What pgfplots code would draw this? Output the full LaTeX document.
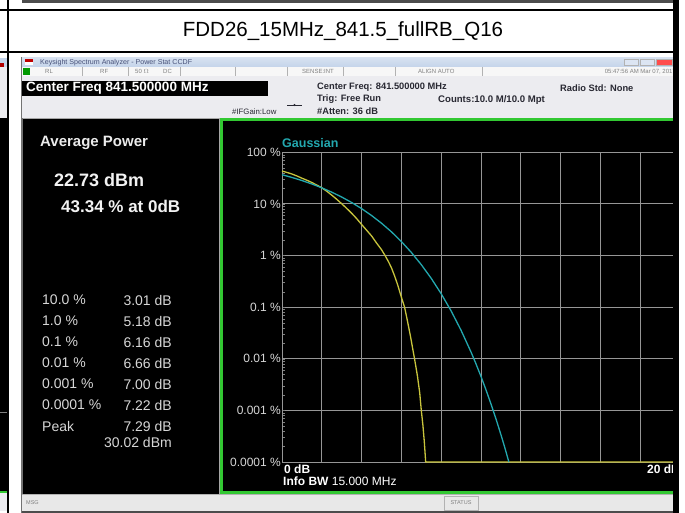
\documentclass[border=0pt]{standalone}
\usepackage{pgfplots}
\pgfplotsset{compat=1.18}
\usepackage{fontspec}
\setmainfont{Liberation Sans}

\definecolor{gridgray}{RGB}{150,150,150}
\definecolor{ccdfyellow}{RGB}{200,196,60}
\definecolor{gausscyan}{RGB}{35,168,175}
\definecolor{panelgreen}{RGB}{50,200,50}
\definecolor{hdrgray}{RGB}{236,236,240}
\definecolor{titleblue}{RGB}{196,212,234}
\definecolor{labelgray}{RGB}{215,215,215}
\definecolor{txtdark}{RGB}{40,40,50}
\newcommand\fs[1]{\fontsize{#1}{#1}\selectfont}

% measured CCDF (yellow) and Gaussian reference (cyan), dB vs percent
\pgfplotstableread{
x y
0 43.34
0.25 40.7
0.5 38.0
0.75 34.8
1 31.5
1.25 28.8
1.5 26.0
1.75 23.2
2 20.5
2.25 17.6
2.5 14.8
2.75 12.3
3.01 10.0
3.25 8.2
3.5 6.6
3.75 5.2
4 4.0
4.25 3.1
4.5 2.4
4.75 1.75
5.0 1.3
5.18 1.0
5.35 0.76
5.5 0.58
5.65 0.41
5.8 0.28
5.95 0.18
6.05 0.135
6.16 0.1
6.3 0.055
6.45 0.028
6.66 0.01
6.8 0.0048
6.92 0.0022
7.0 0.001
7.08 0.00052
7.15 0.00025
7.22 0.0001
20 0.0001
}\measured

\pgfplotstableread{
x y
0 36.79
0.5 32.56
1 28.40
1.5 24.35
2 20.50
2.5 16.89
3 13.60
3.5 10.66
4 8.11
4.5 5.97
5 4.23
5.5 2.88
6 1.866
6.5 1.148
7 0.665
7.5 0.361
8 0.1817
8.5 0.0843
9 0.0355
9.5 0.01347
9.75 0.00794
10 0.00454
10.25 0.002506
10.5 0.001337
10.75 0.000689
11 0.00034
11.2 0.000188
11.4 0.0001
}\gauss

\begin{document}
\begin{tikzpicture}
\useasboundingbox (0,0) rectangle (685pt,-513pt);

\begin{scope}[x=1pt,y=-1pt]
  \fill[white] (0,0) rectangle (685,513);
  % piece of the neighbouring cell
  \fill[titleblue] (0,58) rectangle (7,67);
  \fill[red!70!black] (0,63) rectangle (4,68);
  \fill[hdrgray] (0,67) rectangle (7,118);
  \fill[black] (0,118) rectangle (7,493);
  \draw[gray] (0,412) -- (7,412);
  \fill[panelgreen] (0,491) rectangle (7,493);
  \fill[hdrgray] (0,493) rectangle (7,511);
  % bottom of the screenshot above
  \fill[black!70] (22,0) rectangle (673,3);

  \begin{scope}
    \clip (21,57) rectangle (673,513);
    \fill[black!55] (21,57) rectangle (673,513);
    \shade[top color=titleblue!70!white, bottom color=titleblue] (22,58) rectangle (673,67);
    \fill[red!75!black] (25,59.5) rectangle (33,62);
    \fill[white] (25,62) rectangle (33,65.5);
    \node[anchor=west, inner sep=0pt, text={rgb,255:red,70;green,80;blue,120}, font=\fs{7.1}] at (40,62.5) {Keysight Spectrum Analyzer - Power Stat CCDF};
    \fill[titleblue!60!white, draw=gray!60] (624,59) rectangle (638,65.5);
    \fill[titleblue!60!white, draw=gray!60] (640,59) rectangle (654,65.5);
    \fill[red!70, draw=gray!60] (656,59) rectangle (672,65.5);
    % status row
    \fill[white!94!gray] (22,67) rectangle (673,76);
    \fill[green!60!black] (23,68) rectangle (30,75);
    \foreach \sx in {82,128,180,235,287,343,395,482}
      \draw[gray!60] (\sx,67) -- (\sx,76);
    \begin{scope}[every node/.style={anchor=west, inner sep=0pt, text=gray, font=\fs{6}}]
      \node at (45,71.5) {RL};
      \node at (100,71.5) {RF};
      \node at (135,71.5) {50 $\Omega$};
      \node at (163,71.5) {DC};
      \node at (302,71.5) {SENSE:INT};
      \node at (418,71.5) {ALIGN AUTO};
      \node[anchor=east] at (676,71.5) {05:47:56 AM Mar 07, 2017};
    \end{scope}
    % header
    \fill[hdrgray] (22,76) rectangle (673,118);
    \fill[black] (22,81) rectangle (268,96);
    \node[anchor=west, inner sep=0pt, text=white, font=\fs{13.5}\bfseries] at (26,88.5) {Center Freq 841.500000 MHz};
    \begin{scope}[every node/.style={anchor=west, inner sep=0pt, text=txtdark, font=\fs{9.3}\bfseries}]
      \node at (317,87) {Center Freq: 841.500000 MHz};
      \node at (317,99) {Trig: Free Run};
      \node at (317,111) {\#Atten: 36 dB};
      \node[font=\fs{9.6}\bfseries] at (438,100) {Counts:10.0 M/10.0 Mpt};
      \node at (560,88) {Radio Std: None};
      \node[font=\fs{7.8}] at (232,111.5) {\#IFGain:Low};
    \end{scope}
    \draw[txtdark, line width=0.6pt] (287,105) -- (302,105);
    \fill[txtdark] (294.5,105) circle (1.2);
    % panels
    \fill[black] (23,118) rectangle (219,494);
    \draw[gray!70] (23,118) -- (219,118);
    \draw[gray!70] (219.5,118) -- (219.5,494);
    \fill[black] (220,118) rectangle (673,494);
    \draw[panelgreen, line width=2.2pt] (221.5,119.5) rectangle (700,492.5);
    % status bar
    \fill[gray!18] (22,494) rectangle (673,511);
    \draw[gray!60] (22,494.5) -- (673,494.5);
    \node[anchor=west, inner sep=0pt, text=gray, font=\fs{5.5}] at (26,503) {MSG};
    \draw[gray!60] (444,496) rectangle (478,510);
    \node[inner sep=0pt, text=gray, font=\fs{5.5}] at (461,503) {STATUS};
    \fill[black!70] (22,511) rectangle (673,513);

    % left result panel
    \begin{scope}[every node/.style={inner sep=0pt}]
      \node[anchor=west, text=white!92!black, font=\fs{15}\bfseries] at (40,143) {Average Power};
      \node[anchor=west, text=white!95!black, font=\fs{18}\bfseries] at (54,180) {22.73 dBm};
      \node[anchor=west, text=white!95!black, font=\fs{17}\bfseries] at (61,206) {43.34 \% at 0dB};
      \foreach \ry/\lab/\val in {300/10.0 \%/3.01 dB, 321/1.0 \%/5.18 dB, 342/0.1 \%/6.16 dB,
          363/0.01 \%/6.66 dB, 384/0.001 \%/7.00 dB, 405/0.0001 \%/7.22 dB, 426/Peak/7.29 dB} {
        \node[anchor=west, text=labelgray, font=\fs{14}] at (42,\ry) {\lab};
        \node[anchor=east, text=labelgray, font=\fs{14}] at (172,\ry) {\val};
      }
      \node[anchor=east, text=labelgray, font=\fs{14}] at (172,442) {30.02 dBm};
    \end{scope}
  \end{scope}
\end{scope}

\begin{scope}
  \clip (21pt,-57pt) rectangle (673pt,-513pt);
  \begin{axis}[
      at={(282pt,-462pt)}, anchor=south west,
      scale only axis, width=398pt, height=309.7pt,
      xmin=0, xmax=20,
      ymode=log, ymin=1e-4, ymax=100,
      xtick={0,2,...,20}, xticklabels={},
      ytick={1e-4,1e-3,1e-2,1e-1,1,10,100},
      yticklabels={0.0001 \%,0.001 \%,0.01 \%,0.1 \%,1 \%,10 \%,100 \%},
      yticklabel style={font=\fs{12}, text=labelgray, inner sep=1pt},
      major tick length=0pt,
      grid=major,
      major grid style={gridgray, line width=0.9pt},
      axis line style={gridgray, line width=1pt},
      clip=false,
    ]
    \addplot[ccdfyellow, line width=1.3pt] table[x=x, y=y] {\measured};
    \addplot[gausscyan, line width=1.3pt] table[x=x, y=y] {\gauss};
    \node[anchor=base west, inner sep=0pt, text=gausscyan, font=\fs{12.5}\bfseries] at (rel axis cs:0,1) [yshift=4.5pt] {Gaussian};
    \node[anchor=base west, inner sep=0pt, text=white, font=\fs{12}\bfseries] at (rel axis cs:0,0) [xshift=2pt, yshift=-11.5pt] {0 dB};
    \node[anchor=base east, inner sep=0pt, text=white, font=\fs{12}\bfseries] at (rel axis cs:1,0) [yshift=-11.5pt] {20 dB};
    \node[anchor=base west, inner sep=0pt, text=white, font=\fs{12}] at (rel axis cs:0,0) [xshift=1pt, yshift=-23.5pt] {\textbf{Info BW} 15.000 MHz};
  \end{axis}
\end{scope}

% table grid lines
\begin{scope}[x=1pt,y=-1pt]
  \node[inner sep=0pt, font=\fs{20.5}] at (343,31) {FDD26\_15MHz\_841.5\_fullRB\_Q16};
  \fill[black] (0,9.5) rectangle (679,11.5);
  \fill[black] (0,51.5) rectangle (679,53.5);
  \fill[black] (7,0) rectangle (9,513);
  \fill[black] (673,0) rectangle (679,513);
\end{scope}
\end{tikzpicture}
\end{document}
